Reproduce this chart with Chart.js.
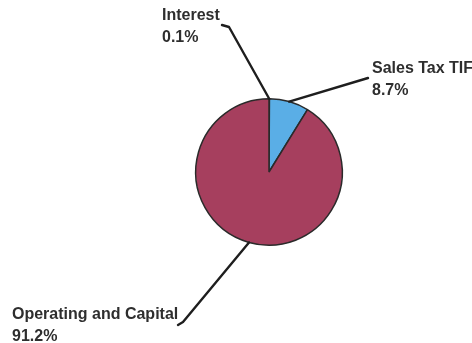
<!DOCTYPE html>
<html>
<head>
<meta charset="utf-8">
<script src="https://cdn.jsdelivr.net/npm/chart.js@4/dist/chart.umd.min.js"></script>
<style>
  html, body { margin: 0; padding: 0; background: #fff; }
  #wrap { width: 472px; height: 343px; }
</style>
</head>
<body>
<div id="wrap"><canvas id="pie"></canvas></div>
<script>
var labels = ['Interest', 'Sales Tax TIF', 'Operating and Capital'];
var shares = [0.1, 8.7, 91.2];
var colors = ['#5aaee6', '#5aaee6', '#a63f5e'];

// where each callout's leader line ends and its text baseline sits
var callouts = [
    { end: [229, 27], hook: [222, 25], text: [162, 20] },
    { end: [368, 78], hook: null, text: [372, 73] },
    { end: [183, 322], hook: [178, 325], text: [12, 319] }
];

var calloutPlugin = {
    id: 'callouts',
    afterDatasetsDraw: function(chart) {
        var ctx = chart.ctx;
        var arcs = chart.getDatasetMeta(0).data;
        ctx.save();
        arcs.forEach(function(arc, i) {
            var c = callouts[i];
            var mid = (arc.startAngle + arc.endAngle) / 2;
            var sx = arc.x + Math.cos(mid) * arc.outerRadius;
            var sy = arc.y + Math.sin(mid) * arc.outerRadius;
            ctx.strokeStyle = '#1e1e1e';
            ctx.lineWidth = 2.4;
            ctx.lineCap = 'round';
            ctx.lineJoin = 'round';
            ctx.beginPath();
            ctx.moveTo(sx, sy);
            ctx.lineTo(c.end[0], c.end[1]);
            if (c.hook) ctx.lineTo(c.hook[0], c.hook[1]);
            ctx.stroke();

            ctx.fillStyle = '#2e2e2e';
            ctx.font = 'bold 16px "Liberation Sans", Arial, sans-serif';
            ctx.textAlign = 'left';
            ctx.textBaseline = 'alphabetic';
            ctx.fillText(labels[i], c.text[0], c.text[1]);
            ctx.fillText(shares[i].toFixed(1) + '%', c.text[0], c.text[1] + 22);
        });
        ctx.restore();
    }
};

new Chart(document.getElementById('pie'), {
    type: 'pie',
    data: {
        labels: labels,
        datasets: [{
            data: shares,
            backgroundColor: colors,
            borderColor: '#2a2a2a',
            borderWidth: 1.5
        }]
    },
    options: {
        responsive: true,
        maintainAspectRatio: false,
        animation: false,
        layout: { padding: { left: 100, right: 34, top: 98, bottom: 97 } },
        plugins: {
            legend: { display: false },
            tooltip: { enabled: false }
        }
    },
    plugins: [calloutPlugin]
});
</script>
</body>
</html>
